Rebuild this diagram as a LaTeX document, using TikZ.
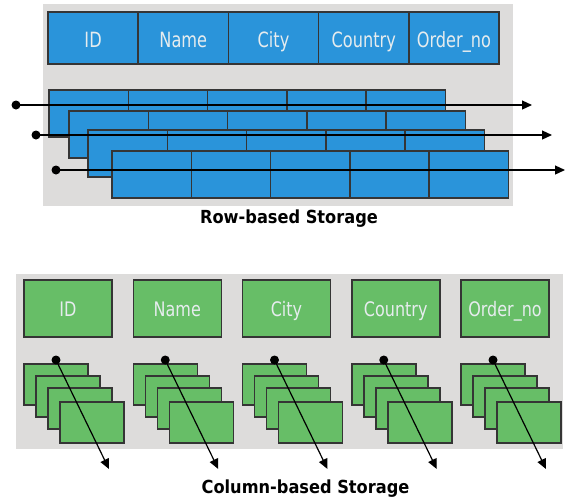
\documentclass[tikz,border=0pt]{standalone}
\usepackage{fontspec}
\usepackage{graphicx}
\setmainfont{DejaVu Sans}
\usetikzlibrary{arrows.meta}
\definecolor{bgray}{HTML}{DDDCDB}
\definecolor{cblue}{HTML}{2A94DA}
\definecolor{cgreen}{HTML}{67BE67}
\definecolor{edgec}{HTML}{353535}
\definecolor{ltxt}{HTML}{E6ECEE}
\newcommand\sqb[1]{\raisebox{-9pt}[0pt][0pt]{\scalebox{0.77}[1]{#1}}}
\newcommand\sqg[1]{\raisebox{-8pt}[0pt][0pt]{\scalebox{0.8}[1]{#1}}}
\newcommand\sqc[1]{\scalebox{0.9}[1]{#1}}
\tikzset{
  panel/.style={fill=bgray, draw=none},
  cellbase/.style={draw=edgec, line width=1.5pt, anchor=north west, inner sep=0pt, outer sep=0pt},
  bluecell/.style={cellbase, fill=cblue, minimum width=79.3pt, minimum height=47pt},
  headblue/.style={cellbase, fill=cblue, minimum width=90.2pt, minimum height=52pt,
    text=ltxt, font=\fontsize{21}{21}\selectfont},
  headgreen/.style={cellbase, fill=cgreen, minimum width=88pt, minimum height=57pt,
    text=ltxt, font=\fontsize{20}{20}\selectfont},
  stackcell/.style={cellbase, fill=cgreen, minimum width=64pt, minimum height=41pt},
  blackdot/.style={circle, fill=black, draw=none, minimum size=9pt, inner sep=0pt},
  flow/.style={line width=1.2pt, -{Triangle[length=10pt,width=9pt]}},
  caption/.style={font=\fontsize{18}{18}\selectfont\bfseries, text=black}
}
\begin{document}
\begin{tikzpicture}[x=1pt,y=-1pt]
\useasboundingbox (0,0) rectangle (565,499);
% ---------- Row-based storage ----------
\fill[panel] (43,4) rectangle (513,206);
\foreach \k/\t in {0/ID,1/Name,2/City,3/Country,4/Order\_no}{
  \node[headblue] (rh\k) at ({48+\k*90.2},12) {\sqb{\t}};
}
\foreach \r/\rx/\ry in {1/49/90, 2/69/111, 3/88/130, 4/112/151}{
  \foreach \c in {0,...,4}{
    \node[bluecell] (r\r c\c) at ({\rx+\c*79.3},\ry) {};
  }
}
\node[blackdot] (d1) at (16,105) {};
\node[blackdot] (d2) at (36,135) {};
\node[blackdot] (d3) at (56,170) {};
\coordinate (e1) at (532,105);
\coordinate (e2) at (552,135);
\coordinate (e3) at (565,170);
\draw[flow] (d1.center) -- (e1);
\draw[flow] (d2.center) -- (e2);
\draw[flow] (d3.center) -- (e3);
\node[caption] (rowcap) at (289,219) {\sqc{Row-based Storage}};
% ---------- Column-based storage ----------
\fill[panel] (16,274) rectangle (563,449);
\foreach \k/\t in {0/ID,1/Name,2/City,3/Country,4/Order\_no}{
  \pgfmathsetmacro\hx{24+\k*109.25}
  \node[headgreen] (ch\k) at (\hx,280) {\sqg{\t}};
  \foreach \s/\ox/\oy in {1/0/364, 2/12/376, 3/24/388, 4/36/402}{
    \node[stackcell] (s\k n\s) at ({\hx+\ox},\oy) {};
  }
  \node[blackdot] (cd\k) at ({\hx+32},360) {};
  \coordinate (ce\k) at ({\hx+85},469);
  \draw[flow] (cd\k.center) -- (ce\k);
}
\node[caption] (colcap) at (305.5,489) {\sqc{Column-based Storage}};
\end{tikzpicture}
\end{document}
